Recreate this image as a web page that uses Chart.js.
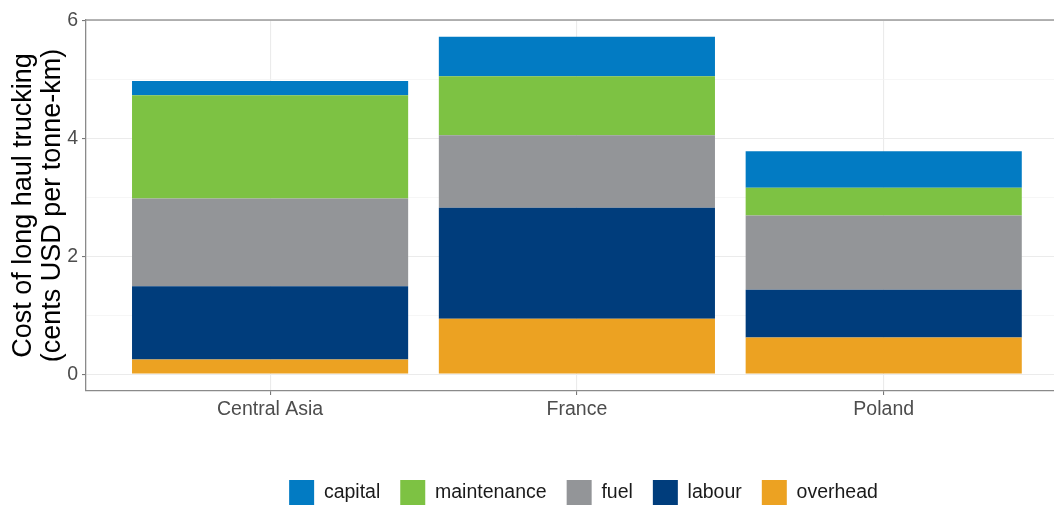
<!DOCTYPE html>
<html>
<head>
<meta charset="utf-8">
<title>Cost of long haul trucking</title>
<script src="https://cdn.jsdelivr.net/npm/chart.js"></script>
<style>
    html, body { margin: 0; padding: 0; background: #fff; overflow: hidden; }
    #wrap { width: 1081px; height: 515px; }
</style>
</head>
<body>
<div id="wrap"><canvas id="truckCost" width="1081" height="515"></canvas></div>
<script>
// cents USD per tonne-km, split by cost component
var regions = ['Central Asia', 'France', 'Poland'];
var overhead = [0.25, 0.94, 0.62];
var labour = [1.24, 1.88, 0.81];
var fuel = [1.49, 1.23, 1.26];
var maintenance = [1.75, 1.00, 0.47];
var capital = [0.24, 0.67, 0.62];
var yTicks = [0, 1, 2, 3, 4, 5, 6];

var fontFamily = "'Liberation Sans', Arial, Helvetica, sans-serif";

// stacked totals -> y range with 5% padding top and bottom
var totals = regions.map(function(r, i) {
    return overhead[i] + labour[i] + fuel[i] + maintenance[i] + capital[i];
});
var yMax = Math.max.apply(null, totals);
var yPad = yMax * 0.05;

function toPoints(values) {
    return values.map(function(v, i) { return {x: i + 1, y: v}; });
}

// bottom of the stack first
var series = [
    {label: 'overhead', data: overhead, color: '#eca222'},
    {label: 'labour', data: labour, color: '#003d7c'},
    {label: 'fuel', data: fuel, color: '#939598'},
    {label: 'maintenance', data: maintenance, color: '#7dc243'},
    {label: 'capital', data: capital, color: '#027bc3'}
];

// top and right edge of the panel
var panelBorder = {
    id: 'panelBorder',
    afterDraw: function(chart) {
        var a = chart.chartArea;
        var c = chart.ctx;
        c.save();
        c.strokeStyle = '#9a9a9a';
        c.lineWidth = 1.3;
        c.beginPath();
        c.moveTo(a.left, a.top);
        c.lineTo(a.right, a.top);
        c.lineTo(a.right, a.bottom);
        c.stroke();
        c.restore();
    }
};

var ctx = document.getElementById('truckCost').getContext('2d');

var chart1 = new Chart(ctx, {
    type: 'bar',
    data: {
        datasets: series.map(function(s) {
            return {
                label: s.label,
                data: toPoints(s.data),
                backgroundColor: s.color,
                borderWidth: 0,
                barPercentage: 0.9,
                categoryPercentage: 1.0
            };
        })
    },
    plugins: [panelBorder],
    options: {
        responsive: false,
        animation: false,
        layout: {
            padding: {left: 0, right: 0, top: 20, bottom: 0}
        },
        plugins: {
            tooltip: {enabled: false},
            legend: {
                position: 'bottom',
                fullSize: false,
                reverse: true,
                labels: {
                    boxWidth: 25,
                    boxHeight: 25,
                    padding: 20,
                    color: '#1a1a1a',
                    font: {family: fontFamily, size: 19.5}
                }
            }
        },
        scales: {
            x: {
                type: 'linear',
                stacked: true,
                offset: false,
                min: 0.4,
                // right side of the panel runs off the canvas
                max: 3.643,
                afterBuildTicks: function(scale) {
                    scale.ticks = regions.map(function(r, i) { return {value: i + 1}; });
                },
                afterFit: function(scale) {
                    scale.height = 69;
                },
                ticks: {
                    color: '#4d4d4d',
                    padding: 3,
                    maxRotation: 0,
                    font: {family: fontFamily, size: 19.5},
                    callback: function(value) { return regions[value - 1]; }
                },
                grid: {
                    offset: false,
                    color: '#ebebeb',
                    lineWidth: 1.1,
                    tickColor: '#777',
                    tickLength: 4
                },
                border: {color: '#8a8a8a', width: 1.3}
            },
            y: {
                stacked: true,
                min: -yPad,
                max: yMax + yPad,
                afterBuildTicks: function(scale) {
                    scale.ticks = yTicks.map(function(v) { return {value: v}; });
                },
                afterFit: function(scale) {
                    scale.width = 86;
                },
                ticks: {
                    color: '#4d4d4d',
                    padding: 4,
                    font: {family: fontFamily, size: 19.5},
                    callback: function(value) { return value % 2 === 0 ? value : ''; }
                },
                grid: {
                    color: function(c) { return c.tick && c.tick.value % 2 ? '#f2f2f2' : '#ebebeb'; },
                    lineWidth: function(c) { return c.tick && c.tick.value % 2 ? 0.7 : 1.1; },
                    tickColor: function(c) { return c.tick && c.tick.value % 2 ? 'rgba(0,0,0,0)' : '#777'; },
                    tickLength: 4
                },
                border: {color: '#8a8a8a', width: 1.3},
                title: {
                    display: true,
                    text: ['Cost of long haul trucking', '(cents USD per tonne-km)'],
                    color: '#000',
                    padding: {top: 9, bottom: 0},
                    font: {family: fontFamily, size: 27, lineHeight: 1.08}
                }
            }
        }
    }
});
</script>
</body>
</html>
